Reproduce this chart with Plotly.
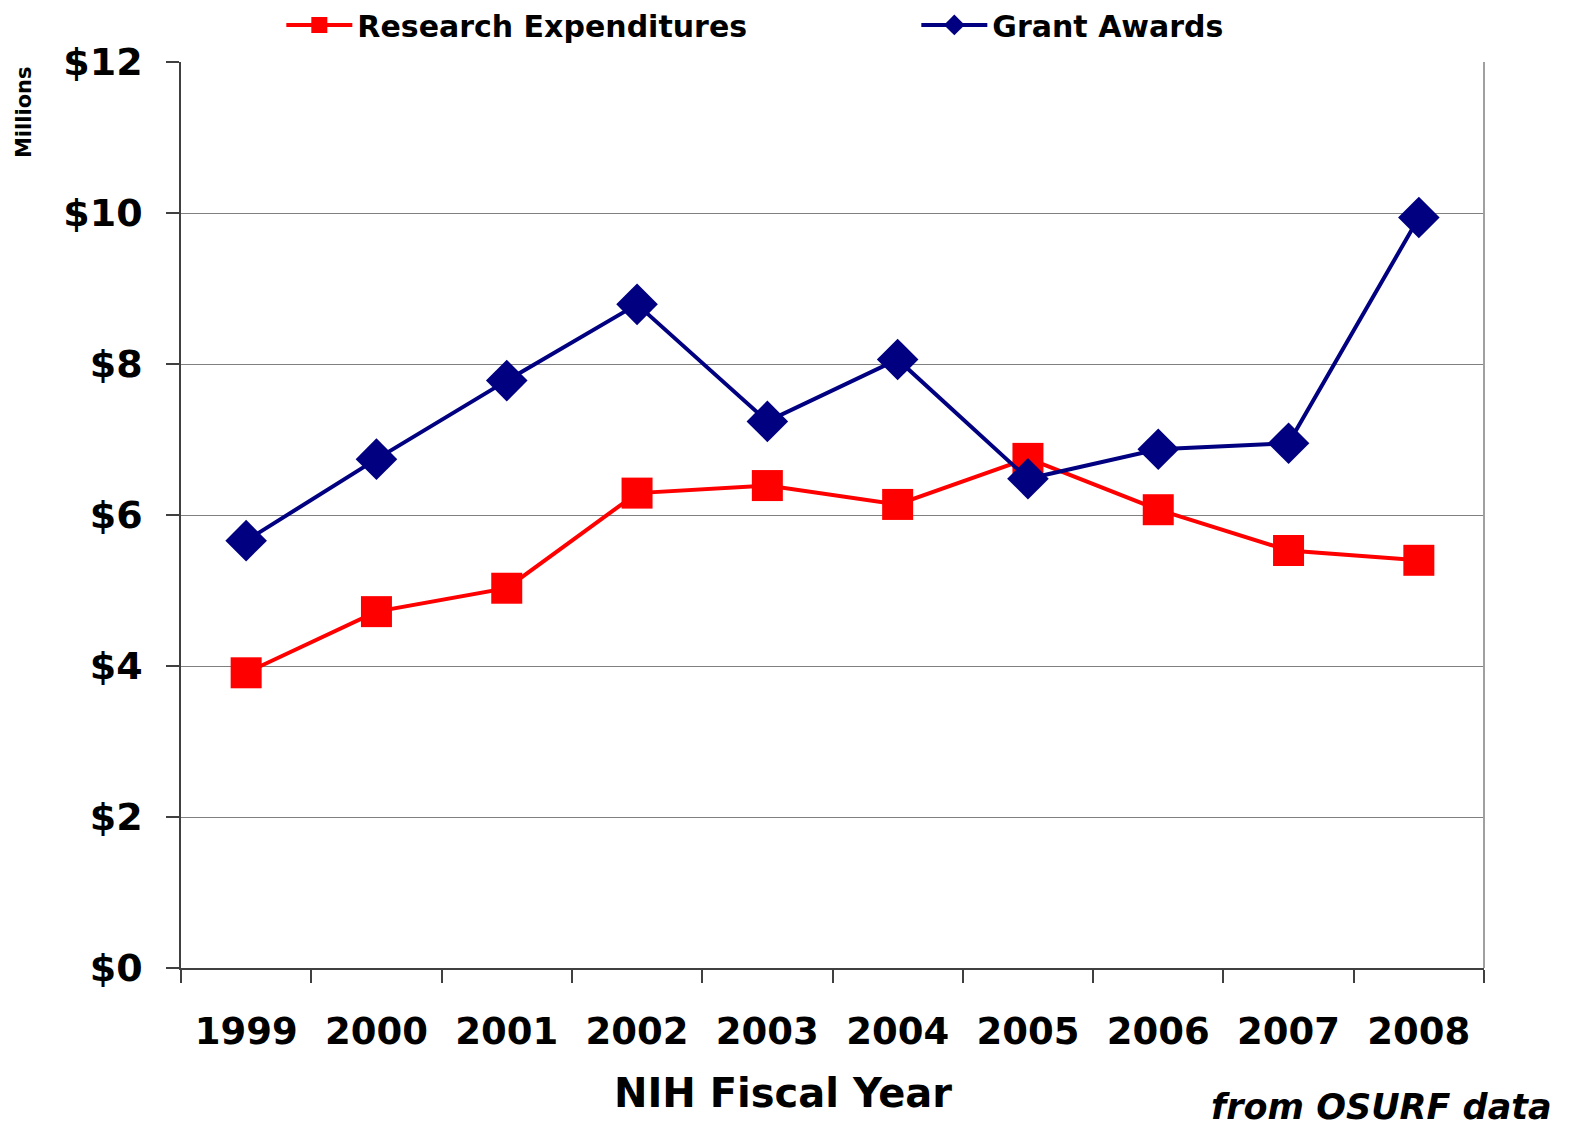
import plotly.graph_objects as go

years = ["1999", "2000", "2001", "2002", "2003", "2004", "2005", "2006", "2007", "2008"]
research_exp = [3.91, 4.72, 5.03, 6.29, 6.39, 6.14, 6.75, 6.07, 5.53, 5.40]
grant_awards = [5.66, 6.74, 7.78, 8.79, 7.24, 8.06, 6.48, 6.87, 6.95, 9.94]
y_ticks = [0, 2, 4, 6, 8, 10, 12]
y_labels = ["$0", "$2", "$4", "$6", "$8", "$10", "$12"]

FONT = "DejaVu Sans, Liberation Sans, Arial, sans-serif"

# plot area in page pixels (reference): x 180..1483, y 62..967
PL, PR, PT, PB = 180, 1483, 62, 967
PW, PH = PR - PL, PB - PT

fig = go.Figure()
fig.add_trace(go.Scatter(
    x=years, y=research_exp, name="Research Expenditures", mode="lines+markers",
    line=dict(color="#FF0000", width=4),
    marker=dict(symbol="square", size=31, color="#FF0000"),
))
fig.add_trace(go.Scatter(
    x=years, y=grant_awards, name="Grant Awards", mode="lines+markers",
    line=dict(color="#000080", width=4),
    marker=dict(symbol="diamond", size=32, color="#000080"),
))

fig.update_layout(
    width=1569, height=1120,
    margin=dict(l=173, r=93, t=54, b=160, autoexpand=False),
    plot_bgcolor="white", paper_bgcolor="white",
    font=dict(family=FONT, color="black"),
    showlegend=True,
    legend=dict(
        orientation="h", x=0.077, y=1 + 37 / PH, xanchor="left", yanchor="middle",
        font=dict(size=30, family=FONT, color="black", weight="bold"),
        itemwidth=66, entrywidth=554, entrywidthmode="pixels",
        bgcolor="rgba(0,0,0,0)", borderwidth=0,
    ),
    xaxis=dict(
        type="category", range=[-0.5, 9.5], tickson="boundaries",
        ticks="outside", ticklen=13, tickcolor="#404040", tickwidth=1.5,
        showline=True, linecolor="#404040", linewidth=1.5,
        showgrid=False, zeroline=False,
        tickfont=dict(size=37, family=FONT, color="black", weight="bold"),
        ticklabelstandoff=30,
    ),
    yaxis=dict(
        range=[0, 12], tickvals=y_ticks, ticktext=y_labels,
        ticks="outside", ticklen=13, tickcolor="#404040", tickwidth=1.5,
        showline=True, linecolor="#404040", linewidth=1.5,
        showgrid=True, gridcolor="#808080", gridwidth=1.2, zeroline=False,
        tickfont=dict(size=38, family=FONT, color="black", weight="bold"),
        ticklabelstandoff=16,
    ),
)

fig.add_shape(type="line", xref="paper", yref="paper", x0=1, x1=1, y0=0, y1=1,
              line=dict(color="#A0A0A0", width=2))

fig.add_annotation(text="NIH Fiscal Year", xref="paper", yref="paper",
                   x=(782 - PL) / PW, y=-(1092 - PB) / PH, xanchor="center", yanchor="middle",
                   showarrow=False, font=dict(size=40, family=FONT, color="black", weight="bold"))
fig.add_annotation(text="<b><i>from OSURF data</i></b>", xref="paper", yref="paper",
                   x=(1552 - PL) / PW, y=-(1106 - PB) / PH, xanchor="right", yanchor="middle",
                   showarrow=False, borderpad=0,
                   font=dict(size=35, family=FONT, color="black"))
fig.add_annotation(text="Millions", xref="paper", yref="paper",
                   x=(23 - PL) / PW, y=(PB - 112) / PH, xanchor="center", yanchor="middle",
                   textangle=-90, showarrow=False,
                   font=dict(size=21, family=FONT, color="black", weight="bold"))

fig.write_html("out.html")
